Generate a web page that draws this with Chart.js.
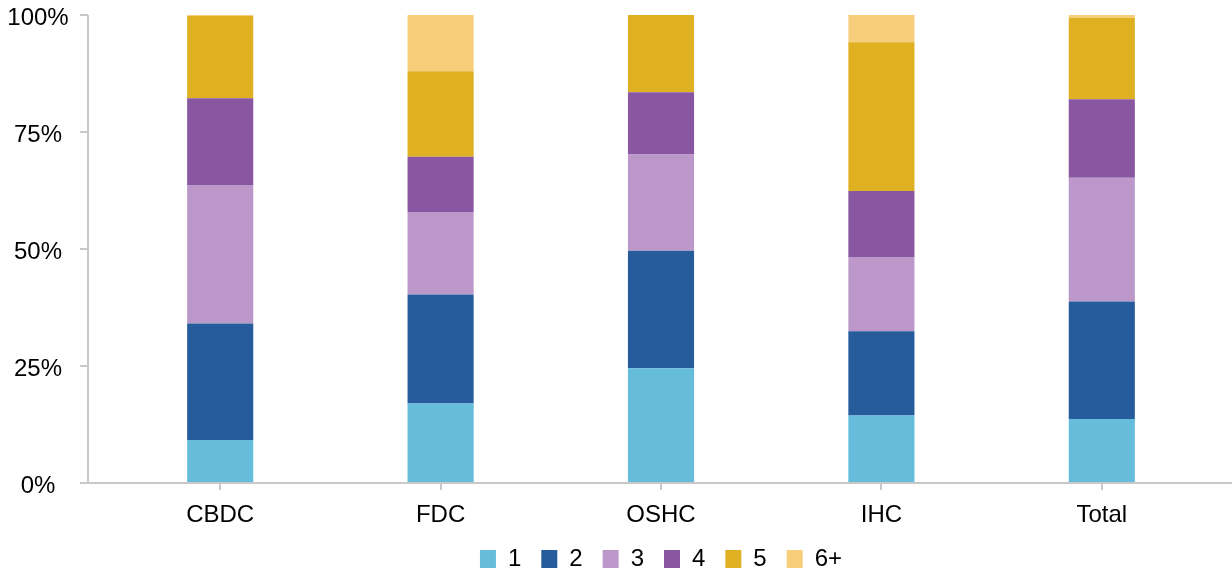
<!DOCTYPE html>
<html>
<head>
<meta charset="utf-8">
<script src="https://cdn.jsdelivr.net/npm/chart.js@4"></script>
<style>
  html, body { margin: 0; padding: 0; background: #fff; }
  #wrap { width: 1232px; height: 571px; }
</style>
</head>
<body>
<div id="wrap"><canvas id="chart"></canvas></div>
<script>
const categories = ["CBDC", "FDC", "OSHC", "IHC", "Total"];
const seriesNames = ["1", "2", "3", "4", "5", "6+"];
const s1 = [9.2, 17.0, 24.5, 14.4, 13.7];
const s2 = [24.9, 23.3, 25.1, 18.0, 25.1];
const s3 = [29.6, 17.6, 20.6, 15.9, 26.4];
const s4 = [18.5, 11.8, 13.3, 14.1, 16.8];
const s5 = [17.6, 18.3, 16.5, 31.8, 17.4];
const s6 = [0.2, 12.0, 0, 5.8, 0.6];
const yTicks = [0, 25, 50, 75, 100];

const colors = ["#65bcdb", "#265c9b", "#bb98c9", "#8957a2", "#dfb122", "#f7cf7c"];
const axisColor = "#c8c8c8";
const fontFamily = "'Liberation Sans', Arial, sans-serif";
const font = { family: fontFamily, size: 24 };

// y axis (line, ticks, labels) sits a bit left of the plot area, x axis line runs to the edge
const axisLines = {
  id: "axisLines",
  afterDraw(chart) {
    const c = chart.ctx;
    const area = chart.chartArea;
    const y = chart.scales.y;
    const ax = area.left - 22;
    c.save();
    c.strokeStyle = axisColor;
    c.lineWidth = 2;
    c.beginPath();
    c.moveTo(ax, y.getPixelForValue(100));
    c.lineTo(ax, area.bottom);
    yTicks.forEach(v => {
      const py = y.getPixelForValue(v);
      c.moveTo(ax - 8, py);
      c.lineTo(ax, py);
    });
    c.moveTo(ax - 8, area.bottom);
    c.lineTo(chart.width, area.bottom);
    c.stroke();

    c.fillStyle = "#000";
    c.font = "24px " + fontFamily;
    c.textAlign = "center";
    c.textBaseline = "middle";
    yTicks.forEach(v => {
      c.fillText(v + "%", 38, y.getPixelForValue(v) + 3);
    });
    c.restore();
  }
};

const ctx = document.getElementById("chart");
const allSeries = [s1, s2, s3, s4, s5, s6];

new Chart(ctx, {
  type: "bar",
  data: {
    labels: categories,
    datasets: allSeries.map((d, i) => ({
      label: seriesNames[i],
      data: d,
      backgroundColor: colors[i],
      borderWidth: 0,
      barPercentage: 0.3,
      categoryPercentage: 1
    }))
  },
  plugins: [axisLines],
  options: {
    responsive: true,
    maintainAspectRatio: false,
    animation: false,
    // wide left padding keeps the legend centred under the plot area
    layout: { padding: { left: 110, right: 20, top: 15, bottom: -10 } },
    scales: {
      x: {
        stacked: true,
        border: { display: false },
        grid: {
          offset: false,
          drawOnChartArea: false,
          color: axisColor,
          lineWidth: 2,
          tickLength: 7
        },
        ticks: { color: "#000", font: font, padding: 11 },
        afterFit: s => {
          s.height = 44;
          s.paddingLeft = 0;
          s.paddingRight = 0;
        }
      },
      y: {
        stacked: true,
        min: 0,
        max: 100,
        display: false,
        afterBuildTicks: axis => { axis.ticks = yTicks.map(v => ({ value: v })); }
      }
    },
    plugins: {
      legend: {
        position: "bottom",
        labels: {
          color: "#000",
          font: font,
          boxWidth: 16,
          boxHeight: 18,
          padding: 20
        }
      },
      tooltip: { enabled: false }
    }
  }
});
</script>
</body>
</html>
